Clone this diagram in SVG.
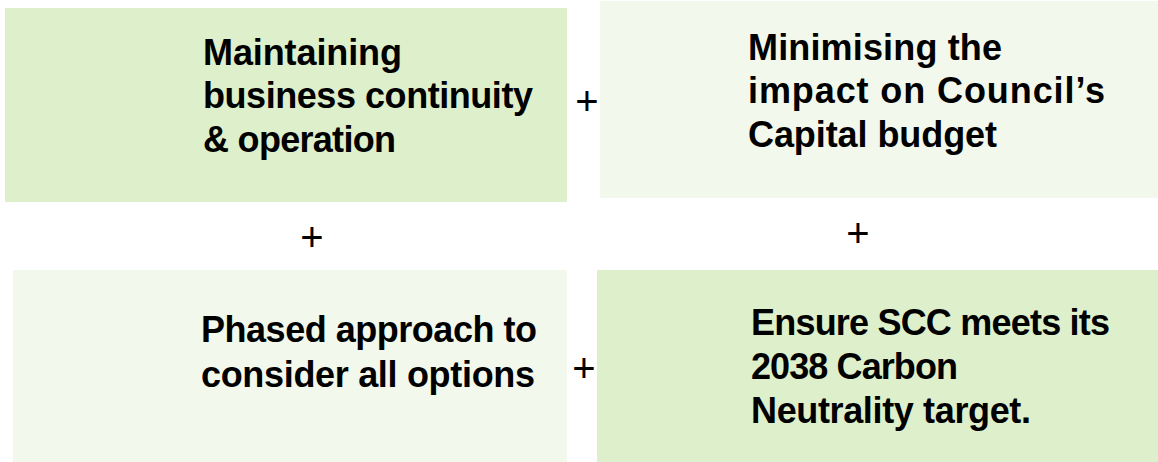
<svg xmlns="http://www.w3.org/2000/svg" width="1158" height="462" viewBox="0 0 1158 462">
<style>
.dark{fill:#DDEFCB}
.light{fill:#F2F8EC}
.t{font-family:"Liberation Sans",Arial,sans-serif;font-weight:bold;font-size:36px;fill:#000}
.p{font-family:"Liberation Sans",Arial,sans-serif;font-size:40px;fill:#000;text-anchor:middle}
</style>
<rect width="1158" height="462" fill="#fff"/>
<g id="node-continuity">
<rect class="dark" x="5" y="8" width="562" height="194"/>
<text class="t"><tspan x="203" y="65" textLength="199">Maintaining</tspan><tspan x="203" y="108" textLength="330">business continuity</tspan><tspan x="203" y="152" textLength="193">&amp; operation</tspan></text>
</g>
<g id="node-budget">
<rect class="light" x="600" y="1" width="558" height="197"/>
<text class="t"><tspan x="748" y="60" textLength="254">Minimising the</tspan><tspan x="748" y="103" textLength="357">impact on Council’s</tspan><tspan x="748" y="147" textLength="249">Capital budget</tspan></text>
</g>
<g id="node-phased">
<rect class="light" x="13" y="270" width="554" height="192"/>
<text class="t"><tspan x="201" y="342" textLength="336">Phased approach to</tspan><tspan x="201" y="387" textLength="334">consider all options</tspan></text>
</g>
<g id="node-carbon">
<rect class="dark" x="597" y="270" width="561" height="192"/>
<text class="t"><tspan x="751" y="335" textLength="359">Ensure SCC meets its</tspan><tspan x="751" y="379" textLength="207">2038 Carbon</tspan><tspan x="751" y="423" textLength="280">Neutrality target.</tspan></text>
</g>
<g id="connectors">
<text class="p" x="587" y="115">+</text>
<text class="p" x="312" y="251">+</text>
<text class="p" x="858" y="247">+</text>
<text class="p" x="584" y="382">+</text>
</g>
</svg>
